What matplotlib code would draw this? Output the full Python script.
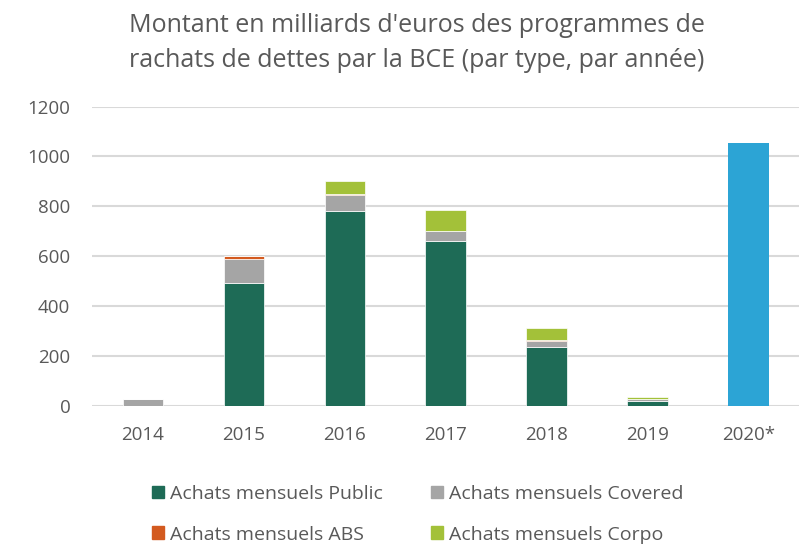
import numpy as np
import matplotlib.pyplot as plt
from matplotlib.patches import Patch

# --- données (milliards d'euros) ---
annees = ['2014', '2015', '2016', '2017', '2018', '2019', '2020*']
public = [0, 494, 780, 660, 238, 22, 0]
covered = [28, 96, 65, 40, 24, 6, 0]
abs_ = [2, 12, 5, 0, 4, 0, 0]
corpo = [0, 0, 52, 85, 47, 9, 0]
pepp = [0, 0, 0, 0, 0, 0, 1052]

series = [
    ('Achats mensuels Public', public, '#1e6b56'),
    ('Achats mensuels Covered', covered, '#a5a5a5'),
    ('Achats mensuels ABS', abs_, '#d35a1f'),
    ('Achats mensuels Corpo', corpo, '#a3c139'),
]

plt.rcParams['font.family'] = ['Open Sans', 'DejaVu Sans']
gris = '#595959'

fig = plt.figure(figsize=(8, 5.46), dpi=100)
ax = fig.add_axes([0.1156, 0.2559, 0.883, 0.549])

x = np.arange(len(annees))
bottom = np.zeros(len(annees))
for nom, vals, col in series:
    ax.bar(x, vals, bottom=bottom, width=0.4, color=col, edgecolor='white',
           linewidth=0.5, zorder=3)
    bottom += np.array(vals)
ax.bar(x, pepp, bottom=bottom, width=0.4, color='#2ca4d5', zorder=3)

ax.set_xlim(-0.5, len(annees) - 0.5)
ax.set_ylim(0, 1200)
ax.set_yticks(range(0, 1201, 200))
ax.set_xticks(x)
ax.set_xticklabels(annees)
ax.tick_params(axis='both', length=0, labelsize=13.5, colors=gris)
ax.tick_params(axis='y', pad=16)
ax.tick_params(axis='x', pad=14)
ax.grid(axis='y', color='#d9d9d9', linewidth=1.5, zorder=0)
for s in ax.spines.values():
    s.set_visible(False)

fig.text(0.521, 0.921, "Montant en milliards d'euros des programmes de\nrachats de dettes par la BCE (par type, par année)",
         ha='center', va='center', fontsize=18, color=gris, linespacing=1.55)

# ordre pour remplir les lignes: Public, Covered / ABS, Corpo
ordre = [0, 2, 1, 3]
handles = [Patch(color=series[i][2], label=series[i][0]) for i in ordre]
fig.legend(handles=handles, ncol=2, loc='center', bbox_to_anchor=(0.522, 0.058),
           frameon=False, fontsize=14, labelcolor=gris, handlelength=0.6,
           handleheight=0.6, handletextpad=0.3, columnspacing=2.5,
           labelspacing=1.15)

fig.savefig('out.png', dpi=100)
